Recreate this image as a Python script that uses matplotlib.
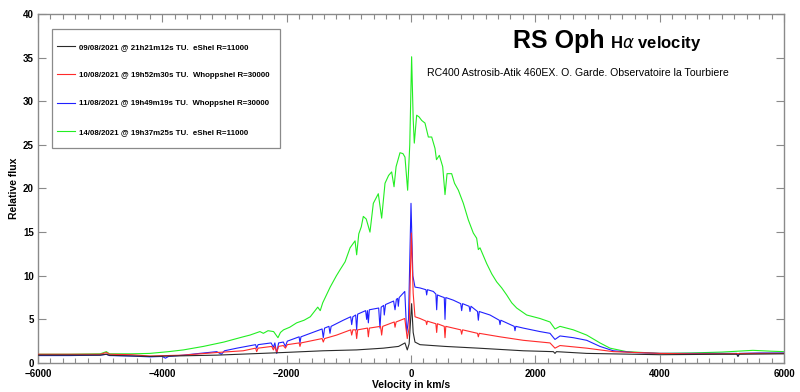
"""RS Oph H-alpha velocity profiles, August 2021."""

import matplotlib

matplotlib.use("Agg")
import matplotlib.pyplot as plt
from matplotlib.patches import Rectangle

plt.rcParams["font.family"] = ["Liberation Sans", "DejaVu Sans"]

# 09/08/2021 eShel R=11000
velocity_0908 = [
    -6000, -5000, -4900, -4850, -4200, -3125, -2054, -1411, -874, -445,
    -200, -97, -60, -30, 10, 35, 64, 145, 547, 1083, 1806, 2290, 2316,
    2340, 2826, 4005, 5000, 5240, 5260, 5280, 6000,
]
flux_0908 = [
    0.9, 0.9, 1.0, 0.88, 0.75, 0.9, 1.2, 1.4, 1.5, 1.7,
    1.9, 2.3, 1.5, 2.2, 6.8, 3.5, 2.4, 2.1, 1.9, 1.7, 1.4, 1.3, 1.1,
    1.3, 1.1, 0.95, 1.0, 1.0, 0.75, 1.0, 1.05,
]

# 10/08/2021 Whoppshel R=30000
velocity_1008 = [
    -6000, -5500, -5000, -4900, -4850, -4500, -4200, -3660, -3125, -2700,
    -2500, -2482, -2460, -2240, -2214, -2190, -2160, -2130, -2054, -2020,
    -1990, -1800, -1786, -1770, -1430, -1411, -1390, -1196, -970, -954,
    -935, -890, -874, -858, -700, -686, -670, -490, -472, -455,
    -270, -257, -240, -100, -60, -30, 5, 35, 64, 145,
    240, 252, 265, 306, 400, 413, 425, 535, 547, 560,
    800, 815, 830, 1070, 1083, 1098, 1432, 1806, 2236, 2316,
    2397, 2826, 3254, 4005, 4500, 5000, 5500, 6000,
]
flux_1008 = [
    1.0, 1.0, 1.0, 1.2, 1.0, 0.95, 0.8, 0.9, 1.2, 1.4,
    1.7, 1.3, 1.7, 1.9, 1.5, 1.9, 1.2, 1.9, 2.0, 1.7,
    2.1, 2.3, 1.9, 2.3, 2.8, 2.4, 2.8, 3.2, 3.8, 3.2,
    3.8, 3.8, 2.8, 3.8, 4.0, 3.0, 4.0, 4.2, 3.2, 4.2,
    4.7, 4.1, 4.7, 5.1, 2.8, 4.0, 14.9, 8.0, 5.3, 5.1,
    4.8, 4.4, 4.8, 4.7, 4.5, 3.5, 4.5, 4.2, 2.9, 4.2,
    3.8, 3.3, 3.8, 3.4, 3.0, 3.4, 3.0, 2.6, 2.3, 1.7,
    2.0, 1.7, 1.3, 1.1, 1.05, 1.05, 1.1, 1.1,
]

# 11/08/2021 Whoppshel R=30000
velocity_1108 = [
    -6000, -5500, -5000, -4900, -4850, -4500, -4200, -4000, -3950, -3900,
    -3660, -3400, -3125, -3050, -3000, -2800, -2500, -2482, -2460, -2250,
    -2214, -2190, -2160, -2130, -2054, -2020, -1990, -1800, -1786, -1770,
    -1430, -1411, -1390, -1320, -1303, -1285, -1090, -970, -954, -935,
    -890, -874, -858, -730, -713, -700, -686, -670, -520, -499,
    -480, -440, -430, -410, -280, -257, -235, -215, -204, -190,
    -100, -69, -40, 0, 30, 64, 145, 240, 252, 265,
    359, 400, 413, 425, 494, 535, 547, 560, 681, 800,
    815, 830, 935, 949, 965, 1070, 1083, 1098, 1271, 1420,
    1432, 1445, 1660, 1673, 1686, 1806, 2075, 2236, 2316, 2397,
    2611, 2826, 3040, 3254, 3576, 4005, 4500, 5000, 5240, 5260,
    5280, 5600, 6000,
]
flux_1108 = [
    0.85, 0.85, 0.9, 1.0, 0.85, 0.8, 0.7, 0.75, 0.55, 0.75,
    0.9, 1.1, 1.3, 1.0, 1.4, 1.7, 2.1, 1.7, 2.1, 2.3,
    1.8, 2.3, 1.1, 2.3, 2.4, 1.9, 2.5, 3.0, 2.3, 3.0,
    3.9, 2.9, 4.0, 4.2, 3.4, 4.2, 4.9, 5.3, 4.4, 5.3,
    5.5, 3.8, 5.6, 6.0, 5.0, 6.0, 4.6, 6.1, 6.3, 4.0,
    6.4, 6.6, 5.5, 6.7, 7.1, 6.1, 7.3, 7.4, 6.5, 7.5,
    8.2, 3.4, 5.0, 18.3, 10.0, 8.7, 8.6, 8.4, 7.8, 8.4,
    8.2, 7.9, 6.1, 7.8, 7.6, 7.5, 5.0, 7.5, 7.2, 6.8,
    6.0, 6.8, 6.5, 5.9, 6.5, 5.9, 4.9, 5.9, 5.5, 4.9,
    4.4, 4.9, 4.2, 3.7, 4.2, 4.0, 3.6, 3.4, 2.7, 3.1,
    2.9, 2.6, 1.9, 1.4, 1.2, 1.1, 1.1, 1.1, 1.1, 0.8,
    1.1, 1.15, 1.15,
]

# 14/08/2021 eShel R=11000
velocity_1408 = [
    -6000, -5500, -5000, -4900, -4850, -4500, -4200, -3900, -3660, -3340,
    -3010, -2700, -2590, -2430, -2375, -2300, -2210, -2140, -2100, -2050,
    -1950, -1840, -1720, -1620, -1500, -1460, -1420, -1300, -1200, -1140,
    -1060, -980, -900, -874, -840, -800, -767, -720, -660, -606,
    -526, -472, -418, -360, -311, -273, -240, -177, -130, -97,
    -54, -20, 10, 35, 53, 91, 130, 172, 225, 279,
    333, 386, 410, 456, 510, 547, 580, 654, 700, 762,
    842, 922, 1002, 1056, 1083, 1110, 1217, 1300, 1378, 1460,
    1539, 1620, 1700, 1861, 2075, 2236, 2316, 2397, 2611, 2826,
    3040, 3201, 3469, 4005, 4500, 5000, 5500, 5800, 6000,
]
flux_1408 = [
    1.0, 1.0, 1.05, 1.3, 1.05, 1.05, 1.1, 1.3, 1.5, 1.9,
    2.4, 3.0, 3.2, 3.6, 3.4, 3.7, 3.6, 2.9, 3.5, 3.8,
    4.1, 4.6, 4.9, 5.3, 6.4, 6.0, 6.9, 8.7, 10.0, 10.7,
    11.6, 13.2, 14.0, 12.4, 14.8, 15.6, 16.8, 16.5, 15.0, 18.3,
    19.4, 16.6, 20.6, 21.5, 21.9, 20.2, 22.5, 24.1, 24.0, 23.6,
    19.8, 25.0, 35.1, 28.0, 25.2, 28.4, 28.2, 27.8, 27.5, 25.9,
    25.9, 24.6, 23.3, 23.8, 22.5, 19.3, 21.7, 21.7, 20.6, 19.8,
    18.3, 16.4, 14.9, 14.3, 13.0, 13.2, 11.4, 10.2, 9.3, 8.6,
    7.8, 6.9, 6.3, 5.5, 5.1, 4.7, 3.9, 4.2, 3.8, 3.2,
    2.3, 1.7, 1.3, 1.1, 1.15, 1.25, 1.45, 1.35, 1.3,
]

legend_labels = [
    "09/08/2021 @ 21h21m12s TU.  eShel R=11000",
    "10/08/2021 @ 19h52m30s TU.  Whoppshel R=30000",
    "11/08/2021 @ 19h49m19s TU.  Whoppshel R=30000",
    "14/08/2021 @ 19h37m25s TU.  eShel R=11000",
]

figure = plt.figure(figsize=(8.0, 3.92), dpi=100)
axis = figure.add_axes([0.0475, 0.074, 0.9325, 0.8903])

spine_color = "#8a8a8a"
series = [
    (velocity_0908, flux_0908, "#2a2a2a", 4),
    (velocity_1008, flux_1008, "#ff2a2a", 3),
    (velocity_1108, flux_1108, "#2020ff", 2),
    (velocity_1408, flux_1408, "#22ee22", 1),
]
handles = []
for (velocity, flux, color, order), label in zip(series, legend_labels):
    (line,) = axis.plot(velocity, flux, color=color, linewidth=0.8,
                        zorder=order, label=label)
    handles.append(line)

axis.set_xlim(-6000, 6000)
axis.set_ylim(0, 40)
axis.set_xticks(range(-6000, 6001, 2000))
axis.set_xticks(range(-6000, 6001, 200), minor=True)
axis.set_yticks(range(0, 41, 5))
axis.tick_params(axis="both", which="both", direction="in", top=True,
                 right=True, color=spine_color, width=0.8,
                 labelsize=7, pad=3)
axis.tick_params(axis="x", which="major", length=6, pad=4)
axis.tick_params(axis="x", which="minor", length=3.5)
axis.tick_params(axis="y", which="major", length=6)
for tick_label in axis.get_xticklabels() + axis.get_yticklabels():
    tick_label.set_fontweight("bold")
for spine in axis.spines.values():
    spine.set_color(spine_color)
    spine.set_linewidth(1.0)

axis.set_xlabel("Velocity in km/s", fontsize=7.5, fontweight="bold",
                labelpad=1)
axis.set_ylabel("Relative flux", fontsize=7.5, fontweight="bold",
                labelpad=3)

# legend box drawn separately so its margins follow the reference
frame = Rectangle((0.0188, 0.616), 0.305, 0.341, transform=axis.transAxes,
                  facecolor="white", edgecolor=spine_color, linewidth=0.9,
                  zorder=5)
axis.add_patch(frame)
legend = axis.legend(handles=handles, loc="upper left",
                     bbox_to_anchor=(0.0255, 0.916), frameon=False,
                     borderpad=0, borderaxespad=0, labelspacing=2.62,
                     handlelength=2.3, handletextpad=0.45,
                     prop={"size": 5.7, "weight": "bold"})
legend.set_zorder(6)

figure.text(0.641, 0.878, "RS Oph", fontsize=18, fontweight="bold",
            va="baseline", ha="left")
figure.text(0.762, 0.878, r"H$\alpha$ velocity", fontsize=12,
            fontweight="bold", va="baseline", ha="left")
figure.text(0.7225, 0.813, "RC400 Astrosib-Atik 460EX. O. Garde. "
            "Observatoire la Tourbiere", fontsize=7.6, va="center",
            ha="center")

figure.savefig("out.png", dpi=100)
